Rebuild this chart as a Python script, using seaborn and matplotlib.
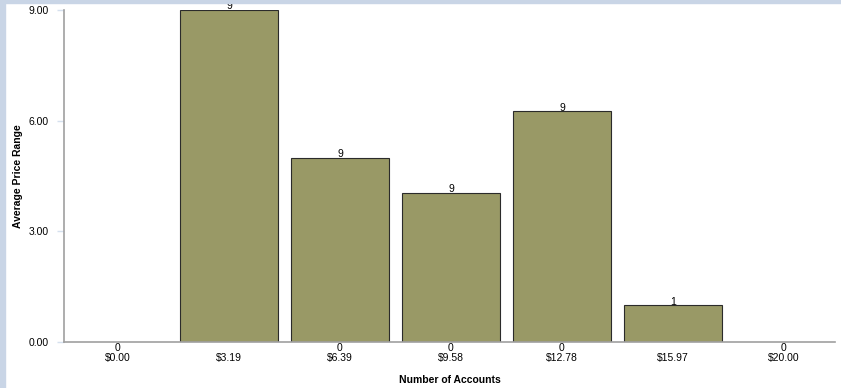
import numpy as np
import pandas as pd
import matplotlib
matplotlib.use("Agg")
import matplotlib.pyplot as plt
from matplotlib.patches import Rectangle
import seaborn as sns

# data
price_bins = ['$0.00', '$3.19', '$6.39', '$9.58', '$12.78', '$15.97', '$20.00']
avg_price = [np.nan, 9.0, 5.0, 4.05, 6.25, 1.0, np.nan]
bar_counts = ['9', '9', '9', '9', '1']
tick_counts = ['0', ' ', '0', '0', '0', ' ', '0']

df = pd.DataFrame({'bin': price_bins, 'avg': avg_price})

sns.set_style('white')
plt.rcParams['font.family'] = ['Liberation Sans', 'DejaVu Sans']
plt.rcParams['text.color'] = 'black'
plt.rcParams['xtick.labelcolor'] = 'black'
plt.rcParams['ytick.labelcolor'] = 'black'

fig = plt.figure(figsize=(8.41, 3.88), dpi=100)
ax = fig.add_axes([64 / 841, 46 / 388, 771 / 841, 332 / 388])

sns.barplot(data=df, x='bin', y='avg', color='#999966', saturation=1,
            width=0.89, edgecolor='#2b2b2b', linewidth=0.8, ax=ax)

# labels on top of bars
vis = [b for b in ax.patches if np.isfinite(b.get_height()) and b.get_height() > 0]
vis.sort(key=lambda b: b.get_x())
for b, lab in zip(vis, bar_counts):
    ax.text(b.get_x() + b.get_width() / 2, b.get_height() - 0.04, lab,
            ha='center', va='bottom', fontsize=7.5, color='black')

ax.set_ylim(0, 9)
ax.set_xlim(-0.486, 6.46)
ax.set_yticks([0, 3, 6, 9])
ax.set_yticklabels(['0.00', '3.00', '6.00', '9.00'], fontsize=7.5)
ax.set_xticks(range(len(price_bins)))
ax.set_xticklabels([f'{c}\n{p}' for c, p in zip(tick_counts, price_bins)],
                   fontsize=7.5, linespacing=0.95)
ax.set_xticks(np.arange(0.5, len(price_bins) - 0.5, 1), minor=True)
ax.tick_params(axis='x', which='major', length=0, pad=1)
ax.tick_params(axis='x', which='minor', length=4, color='#d5e0ee', width=1.5,
               direction='in')
ax.tick_params(axis='y', length=5, color='#d5e0ee', width=1, pad=6, left=True)

ax.set_xlabel('')
ax.set_ylabel('')
fig.text(450 / 841, 1 - 380 / 388, 'Number of Accounts', fontsize=7.5,
         fontweight='bold', ha='center', va='center')
fig.text(18 / 841, 1 - 176 / 388, 'Average Price Range', fontsize=7.5,
         fontweight='bold', ha='center', va='center', rotation=90)

for s in ['top', 'right']:
    ax.spines[s].set_visible(False)
ax.spines['left'].set_color('#a0a0a0')
ax.spines['bottom'].set_color('#a0a0a0')
ax.spines['left'].set_linewidth(1.2)
ax.spines['bottom'].set_linewidth(1.2)

# light frame strips at the left and top edges
fig.patches.append(Rectangle((0, 0), 5 / 841, 1, transform=fig.transFigure,
                             color='#c9d5e6', zorder=0))
fig.patches.append(Rectangle((0, 1 - 3 / 388), 1, 3 / 388,
                             transform=fig.transFigure, color='#c9d5e6', zorder=0))

fig.savefig('out.png', dpi=100)
